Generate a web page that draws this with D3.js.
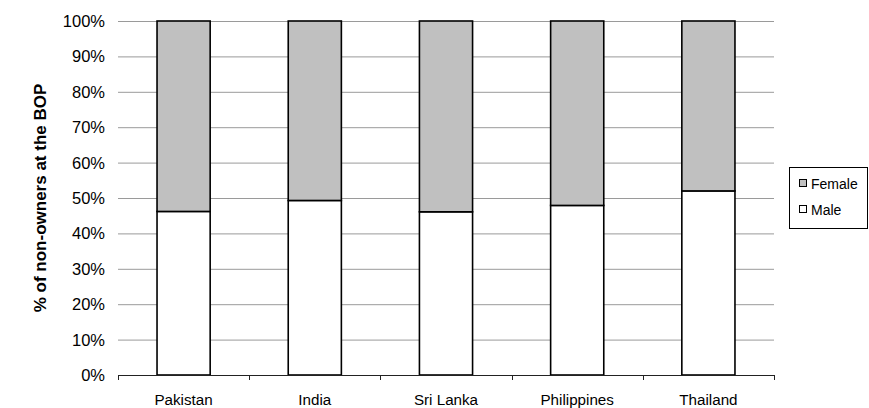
<!DOCTYPE html>
<html>
<head>
<meta charset="utf-8">
<script src="https://cdn.jsdelivr.net/npm/d3@7"></script>
<style>
  html, body { margin: 0; padding: 0; background: #fff; }
  svg { display: block; font-family: "Liberation Sans", Arial, sans-serif; }
</style>
</head>
<body>
<svg id="chart" width="869" height="408"></svg>
<script>
// Share of non-owners at the BOP by gender, per country (percent)
const countries = ["Pakistan", "India", "Sri Lanka", "Philippines", "Thailand"];
const male = [46.2, 49.3, 46.1, 47.9, 52.0];
const female = [53.8, 50.7, 53.9, 52.1, 48.0];
const yTicks = [0, 10, 20, 30, 40, 50, 60, 70, 80, 90, 100];
const seriesNames = ["Female", "Male"];
const seriesColors = { Female: "#c0c0c0", Male: "#ffffff" };

const svg = d3.select("#chart");
const plot = { left: 118, right: 774, top: 21, bottom: 375 };

const x = d3.scaleBand()
  .domain(countries)
  .range([plot.left, plot.right])
  .paddingInner(0.595)
  .paddingOuter(0.2975);

const y = d3.scaleLinear().domain([0, 100]).range([plot.bottom, plot.top]);

// horizontal gridlines
svg.append("g")
  .selectAll("line")
  .data(yTicks.filter(t => t > 0))
  .join("line")
  .attr("x1", plot.left).attr("x2", plot.right)
  .attr("y1", d => y(d) + 0.5).attr("y2", d => y(d) + 0.5)
  .attr("stroke", "#9a9a9a").attr("stroke-width", 1);

// y tick labels
svg.append("g")
  .selectAll("text")
  .data(yTicks)
  .join("text")
  .attr("x", 105)
  .attr("y", d => y(d))
  .attr("dy", "0.36em")
  .attr("text-anchor", "end")
  .attr("font-size", 16.5)
  .attr("fill", "#000")
  .text(d => d + "%");

// stacked bars
const rows = countries.map((c, i) => ({ country: c, Male: male[i], Female: female[i] }));
const stack = d3.stack().keys(["Male", "Female"])(rows);

svg.append("g")
  .selectAll("g")
  .data(stack)
  .join("g")
  .attr("fill", d => seriesColors[d.key])
  .selectAll("rect")
  .data(d => d)
  .join("rect")
  .attr("x", d => x(d.data.country))
  .attr("width", x.bandwidth())
  .attr("y", d => y(d[1]))
  .attr("height", d => y(d[0]) - y(d[1]))
  .attr("stroke", "#000")
  .attr("stroke-width", 1.6);

// x axis with ticks between categories
const xAxis = svg.append("g");
xAxis.append("line")
  .attr("x1", plot.left).attr("x2", plot.right)
  .attr("y1", plot.bottom + 0.5).attr("y2", plot.bottom + 0.5)
  .attr("stroke", "#222").attr("stroke-width", 1);
const boundaries = d3.range(countries.length + 1).map(i => plot.left + i * (plot.right - plot.left) / countries.length);
xAxis.selectAll("line.tick")
  .data(boundaries)
  .join("line")
  .attr("class", "tick")
  .attr("x1", d => Math.round(d) + 0.5).attr("x2", d => Math.round(d) + 0.5)
  .attr("y1", plot.bottom).attr("y2", plot.bottom + 5)
  .attr("stroke", "#222").attr("stroke-width", 1);
xAxis.selectAll("text")
  .data(countries)
  .join("text")
  .attr("x", d => x(d) + x.bandwidth() / 2)
  .attr("y", 405)
  .attr("text-anchor", "middle")
  .attr("font-size", 15.2)
  .attr("fill", "#000")
  .text(d => d);

// y axis title
svg.append("text")
  .attr("transform", "translate(46,198) rotate(-90)")
  .attr("text-anchor", "middle")
  .attr("font-size", 17)
  .attr("font-weight", "bold")
  .attr("fill", "#000")
  .text("% of non-owners at the BOP");

// legend
const legend = svg.append("g").attr("transform", "translate(789,167)");
legend.append("rect")
  .attr("x", 0.5).attr("y", 0.5)
  .attr("width", 78).attr("height", 61)
  .attr("fill", "#fff").attr("stroke", "#000").attr("stroke-width", 1);
const items = legend.selectAll("g.item")
  .data(seriesNames)
  .join("g")
  .attr("class", "item")
  .attr("transform", (d, i) => `translate(10,${17 + i * 26})`);
items.append("rect")
  .attr("x", 0.5).attr("y", -4.5)
  .attr("width", 7).attr("height", 7)
  .attr("fill", d => seriesColors[d])
  .attr("stroke", "#000").attr("stroke-width", 1);
items.append("text")
  .attr("x", 12)
  .attr("y", 0)
  .attr("dy", "0.36em")
  .attr("font-size", 14)
  .attr("fill", "#000")
  .text(d => d);
</script>
</body>
</html>
